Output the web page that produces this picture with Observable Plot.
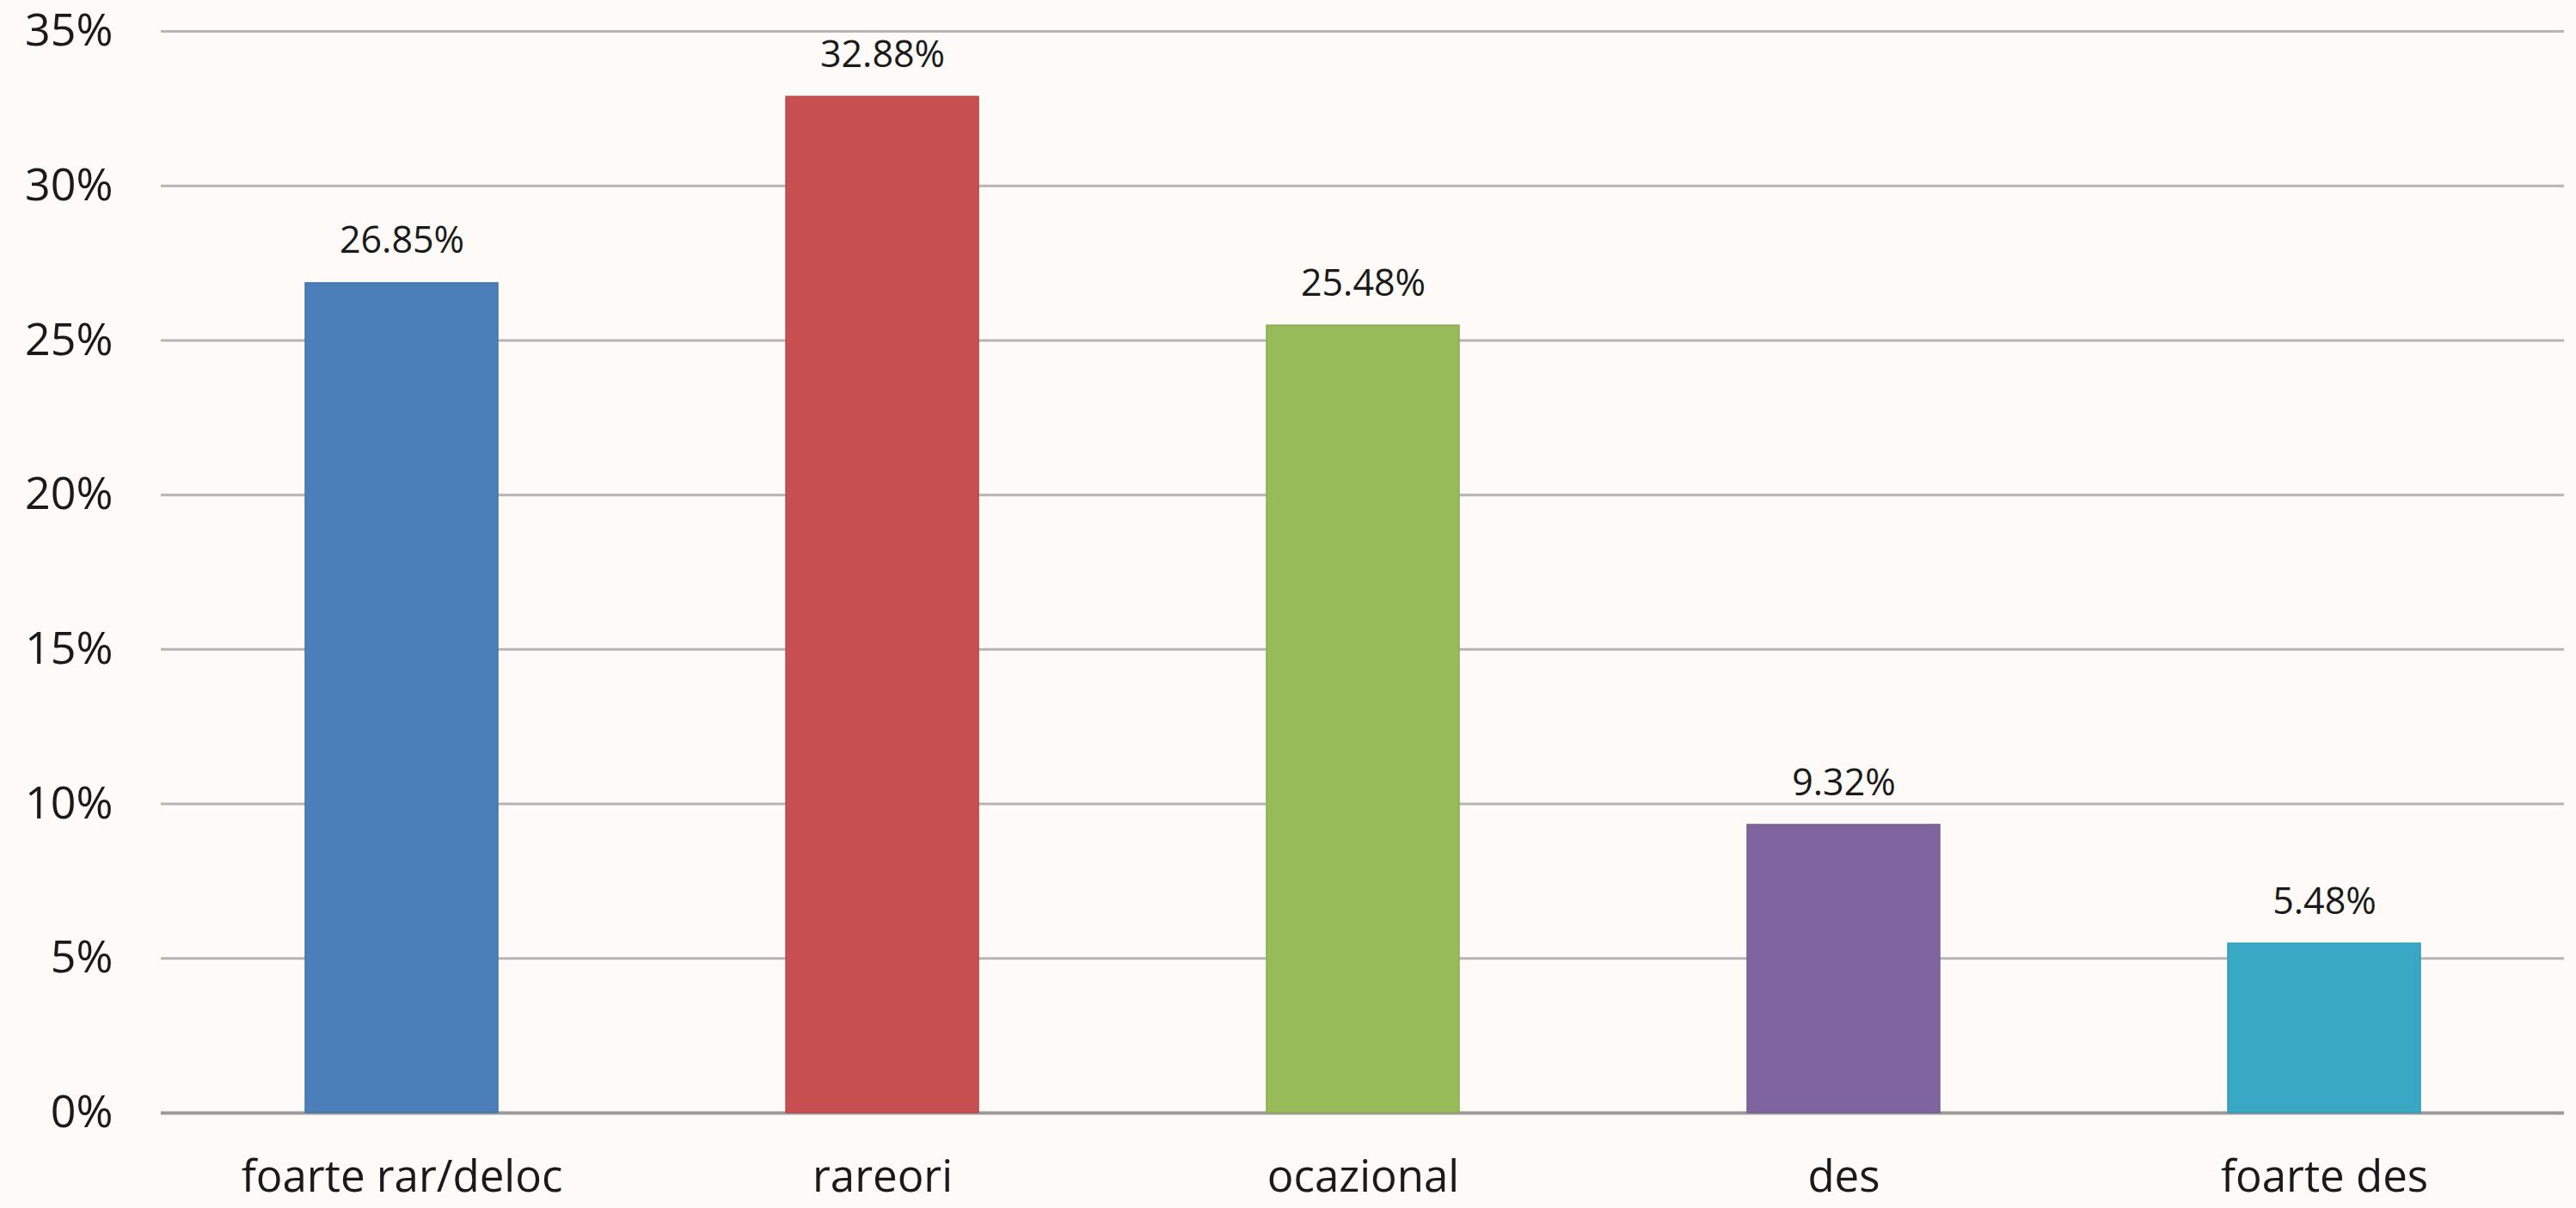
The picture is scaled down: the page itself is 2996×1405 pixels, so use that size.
<!DOCTYPE html>
<html>
<head>
<meta charset="utf-8">
<script src="https://cdn.jsdelivr.net/npm/d3@7"></script>
<script src="https://cdn.jsdelivr.net/npm/@observablehq/plot@0.6"></script>
<style>
  html, body { margin: 0; padding: 0; background: #fdfaf7; }
  #chart svg { display: block; }
</style>
</head>
<body>
<div id="chart"></div>
<script>
const categories = ["foarte rar/deloc", "rareori", "ocazional", "des", "foarte des"];
const values = [26.85, 32.88, 25.48, 9.32, 5.48];
const colors = ["#4a7fba", "#c84f4f", "#98bb59", "#8064a0", "#38a8c4"];
const yTicks = [0, 5, 10, 15, 20, 25, 30, 35];

const data = categories.map((c, i) => ({category: c, value: values[i], color: colors[i]}));

const chart = Plot.plot({
  width: 2996,
  height: 1405,
  marginTop: 36,
  marginBottom: 111,
  marginLeft: 187,
  marginRight: 14,
  style: {background: "#fdfaf7", fontFamily: "'Open Sans', sans-serif", color: "#1a1a1a"},
  x: {domain: categories, paddingInner: 0.6, paddingOuter: 0.3, label: null},
  y: {domain: [0, 35], label: null},
  marks: [
    Plot.ruleY(yTicks.filter(d => d > 0), {stroke: "#b5b5b5", strokeWidth: 3}),
    Plot.ruleY([0], {stroke: "#9a9a9a", strokeWidth: 4}),
    Plot.barY(data, {x: "category", y: "value", fill: "color", stroke: d => d3.color(d.color).darker(0.25).formatHex(), strokeWidth: 1.5}),
    Plot.text(data, {x: "category", y: "value", text: d => d.value.toFixed(2) + "%", lineAnchor: "bottom", dy: -35, fontSize: 43, fill: "#1a1a1a"}),
    Plot.axisY({ticks: yTicks, tickFormat: d => d + "%", tickSize: 0, tickPadding: 56, fontSize: 52, fill: "#1a1a1a", label: null}),
    Plot.axisX({tickSize: 0, tickPadding: 55, fontSize: 51, fill: "#1a1a1a", label: null})
  ]
});
document.getElementById("chart").appendChild(chart);
</script>
</body>
</html>
